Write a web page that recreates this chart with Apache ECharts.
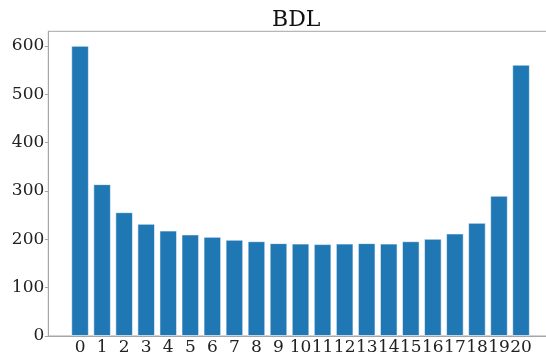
<!DOCTYPE html>
<html>
<head>
<meta charset="utf-8">
<script src="https://cdn.jsdelivr.net/npm/echarts@6/dist/echarts.min.js"></script>
<style>
  html, body { margin: 0; padding: 0; background: #fff; overflow: hidden; }
  #chart { width: 546px; height: 359px; }
</style>
</head>
<body>
<div id="chart"></div>
<script>
const titleText = 'BDL';
const categories = ['0','1','2','3','4','5','6','7','8','9','10','11','12','13','14','15','16','17','18','19','20'];
const values = [600, 314, 256, 232, 218, 210, 205, 199, 196, 192, 191, 190, 191, 192, 191, 196, 201, 212, 234, 290, 561];
const yTicks = [0, 100, 200, 300, 400, 500, 600];

const chart = echarts.init(document.getElementById('chart'), null, { renderer: 'canvas' });
const spine = '#a6a6a6';
const serif = 'DejaVu Serif';

const barData = categories.map((c, i) => [Number(c), values[i]]);

chart.setOption({
  animation: false,
  backgroundColor: '#ffffff',
  title: {
    text: titleText,
    left: 267,
    top: 4,
    textStyle: { fontFamily: serif, fontSize: 22, fontWeight: 'normal', color: '#111' }
  },
  grid: {
    left: 48.3, top: 31.3, width: 504.5, height: 304.7,
    outerBoundsMode: 'none',
    show: true, borderColor: spine, borderWidth: 1, backgroundColor: 'transparent'
  },
  xAxis: {
    type: 'value',
    min: -1.44,
    max: 21.44,
    interval: 0.04,
    axisLine: { show: true, onZero: false, lineStyle: { color: spine } },
    axisTick: { show: false },
    splitLine: { show: false },
    axisLabel: {
      fontFamily: serif, fontSize: 17, color: '#222', margin: 3,
      formatter: function (v) {
        const r = Math.round(v);
        if (Math.abs(v - r) < 1e-6 && categories.indexOf(String(r)) >= 0) return String(r);
        return '';
      }
    }
  },
  yAxis: {
    type: 'value',
    min: yTicks[0],
    max: 630,
    interval: 100,
    axisLine: { show: true, onZero: false, lineStyle: { color: spine } },
    axisTick: { show: true, length: 3.5, lineStyle: { color: spine } },
    splitLine: { show: false },
    axisLabel: {
      fontFamily: serif, fontSize: 17, color: '#222', margin: 4,
      showMaxLabel: false,
      formatter: function (v) { return yTicks.indexOf(v) >= 0 ? String(v) : ''; }
    }
  },
  series: [{
    type: 'bar',
    data: barData,
    barWidth: 17.6,
    itemStyle: { color: '#1f77b4', borderColor: 'rgba(255,255,255,0.55)', borderWidth: 1 }
  }]
});
</script>
</body>
</html>
